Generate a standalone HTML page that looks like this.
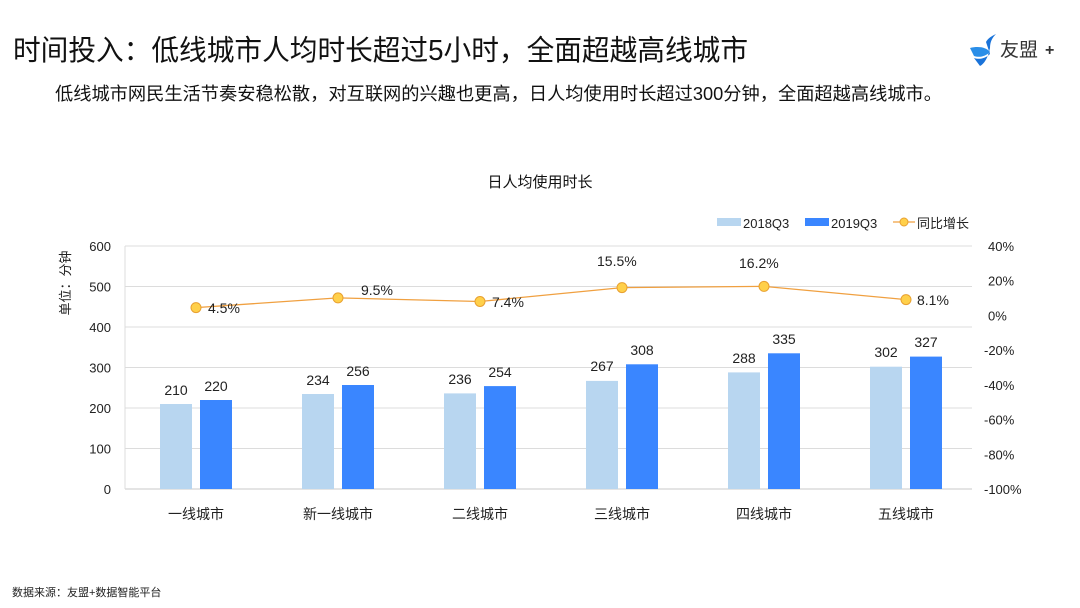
<!DOCTYPE html>
<html><head><meta charset="utf-8"><style>
body{margin:0;background:#fff;}
svg{display:block;font-family:"Liberation Sans","Noto Sans CJK SC",sans-serif;}
</style></head><body>
<svg width="1080" height="608" viewBox="0 0 1080 608">
<text x="13" y="60" font-size="28.5" fill="#111" textLength="735" lengthAdjust="spacingAndGlyphs">时间投入：低线城市人均时长超过5小时，全面超越高线城市</text>
<text x="55" y="100" font-size="18" fill="#111" textLength="887" lengthAdjust="spacingAndGlyphs">低线城市网民生活节奏安稳松散，对互联网的兴趣也更高，日人均使用时长超过300分钟，全面超越高线城市。</text>
<!-- logo -->
<g transform="translate(966,34)">
<path d="M4 14 C12 12 20 13 24 18 C20 22 14 24 8 22 Z" fill="#2a8ee8"/>
<path d="M8 24 C14 26 20 24 24 20 L20 8 C22 4 26 2 30 0 C26 4 24 8 24 14 C22 24 18 30 14 32 Z" fill="#1a73d9"/>
</g>
<text x="1000" y="56" font-size="19" fill="#333">友盟</text>
<text x="1045" y="55" font-size="16" font-weight="bold" fill="#333">+</text>
<text x="540" y="187" font-size="15" fill="#111" text-anchor="middle">日人均使用时长</text>
<!-- legend -->
<rect x="717" y="218" width="24" height="8" fill="#b8d6f0"/>
<text x="743" y="228" font-size="13" fill="#222">2018Q3</text>
<rect x="805" y="218" width="24" height="8" fill="#3a86ff"/>
<text x="831" y="228" font-size="13" fill="#222">2019Q3</text>
<line x1="893" y1="222" x2="915" y2="222" stroke="#f0a040" stroke-width="1.2"/>
<circle cx="904" cy="222" r="4" fill="#ffd04a" stroke="#e8a030"/>
<text x="917" y="228" font-size="13" fill="#222">同比增长</text>
<!-- grid -->
<g stroke="#dcdcdc" stroke-width="1">
<line x1="125" y1="246" x2="972" y2="246"/>
<line x1="125" y1="286.5" x2="972" y2="286.5"/>
<line x1="125" y1="327" x2="972" y2="327"/>
<line x1="125" y1="367.5" x2="972" y2="367.5"/>
<line x1="125" y1="408" x2="972" y2="408"/>
<line x1="125" y1="448.5" x2="972" y2="448.5"/>
<line x1="125" y1="489" x2="972" y2="489" stroke="#c8c8c8"/>
<line x1="125" y1="246" x2="125" y2="489"/>
</g>
<g font-size="13" fill="#222" text-anchor="end">
<text x="111" y="251">600</text><text x="111" y="291.5">500</text><text x="111" y="332">400</text>
<text x="111" y="372.5">300</text><text x="111" y="413">200</text><text x="111" y="453.5">100</text><text x="111" y="494">0</text>
</g>
<g font-size="13" fill="#222">
<text x="988" y="251">40%</text><text x="988" y="285.7">20%</text><text x="988" y="320.4">0%</text>
<text x="984" y="355.1">-20%</text><text x="984" y="389.9">-40%</text><text x="984" y="424.6">-60%</text>
<text x="984" y="459.3">-80%</text><text x="984" y="494">-100%</text>
</g>
<text transform="translate(70,283) rotate(-90)" font-size="13" fill="#222" text-anchor="middle">单位：分钟</text>
<!-- bars -->
<g>
<rect x="160" y="404" width="32" height="85" fill="#b8d6f0"/><rect x="200" y="400" width="32" height="89" fill="#3a86ff"/>
<rect x="302" y="394" width="32" height="95" fill="#b8d6f0"/><rect x="342" y="385" width="32" height="104" fill="#3a86ff"/>
<rect x="444" y="393.4" width="32" height="95.6" fill="#b8d6f0"/><rect x="484" y="386.1" width="32" height="102.9" fill="#3a86ff"/>
<rect x="586" y="380.9" width="32" height="108.1" fill="#b8d6f0"/><rect x="626" y="364.3" width="32" height="124.7" fill="#3a86ff"/>
<rect x="728" y="372.4" width="32" height="116.6" fill="#b8d6f0"/><rect x="768" y="353.3" width="32" height="135.7" fill="#3a86ff"/>
<rect x="870" y="366.7" width="32" height="122.3" fill="#b8d6f0"/><rect x="910" y="356.6" width="32" height="132.4" fill="#3a86ff"/>
</g>
<g font-size="14" fill="#222" text-anchor="middle">
<text x="176" y="395">210</text><text x="216" y="391">220</text>
<text x="318" y="385">234</text><text x="358" y="376">256</text>
<text x="460" y="384">236</text><text x="500" y="377">254</text>
<text x="602" y="371">267</text><text x="642" y="355">308</text>
<text x="744" y="363">288</text><text x="784" y="344">335</text>
<text x="886" y="357">302</text><text x="926" y="347">327</text>
</g>
<g font-size="14" fill="#222" text-anchor="middle">
<text x="196" y="519">一线城市</text><text x="338" y="519">新一线城市</text><text x="480" y="519">二线城市</text>
<text x="622" y="519">三线城市</text><text x="764" y="519">四线城市</text><text x="906" y="519">五线城市</text>
</g>
<!-- line -->
<polyline points="196,307.6 338,297.9 480,301.5 622,287.6 764,286.4 906,299.6" fill="none" stroke="#f0a040" stroke-width="1.3"/>
<g fill="#ffd04a" stroke="#e8a030" stroke-width="1">
<circle cx="196" cy="307.6" r="5"/><circle cx="338" cy="297.9" r="5"/><circle cx="480" cy="301.5" r="5"/>
<circle cx="622" cy="287.6" r="5"/><circle cx="764" cy="286.4" r="5"/><circle cx="906" cy="299.6" r="5"/>
</g>
<g font-size="14" fill="#222">
<text x="208" y="313">4.5%</text><text x="361" y="295">9.5%</text><text x="492" y="307">7.4%</text>
<text x="597" y="266">15.5%</text><text x="739" y="268">16.2%</text><text x="917" y="305">8.1%</text>
</g>
<text x="12" y="596" font-size="11" fill="#222">数据来源：友盟+数据智能平台</text>
</svg>
</body></html>
